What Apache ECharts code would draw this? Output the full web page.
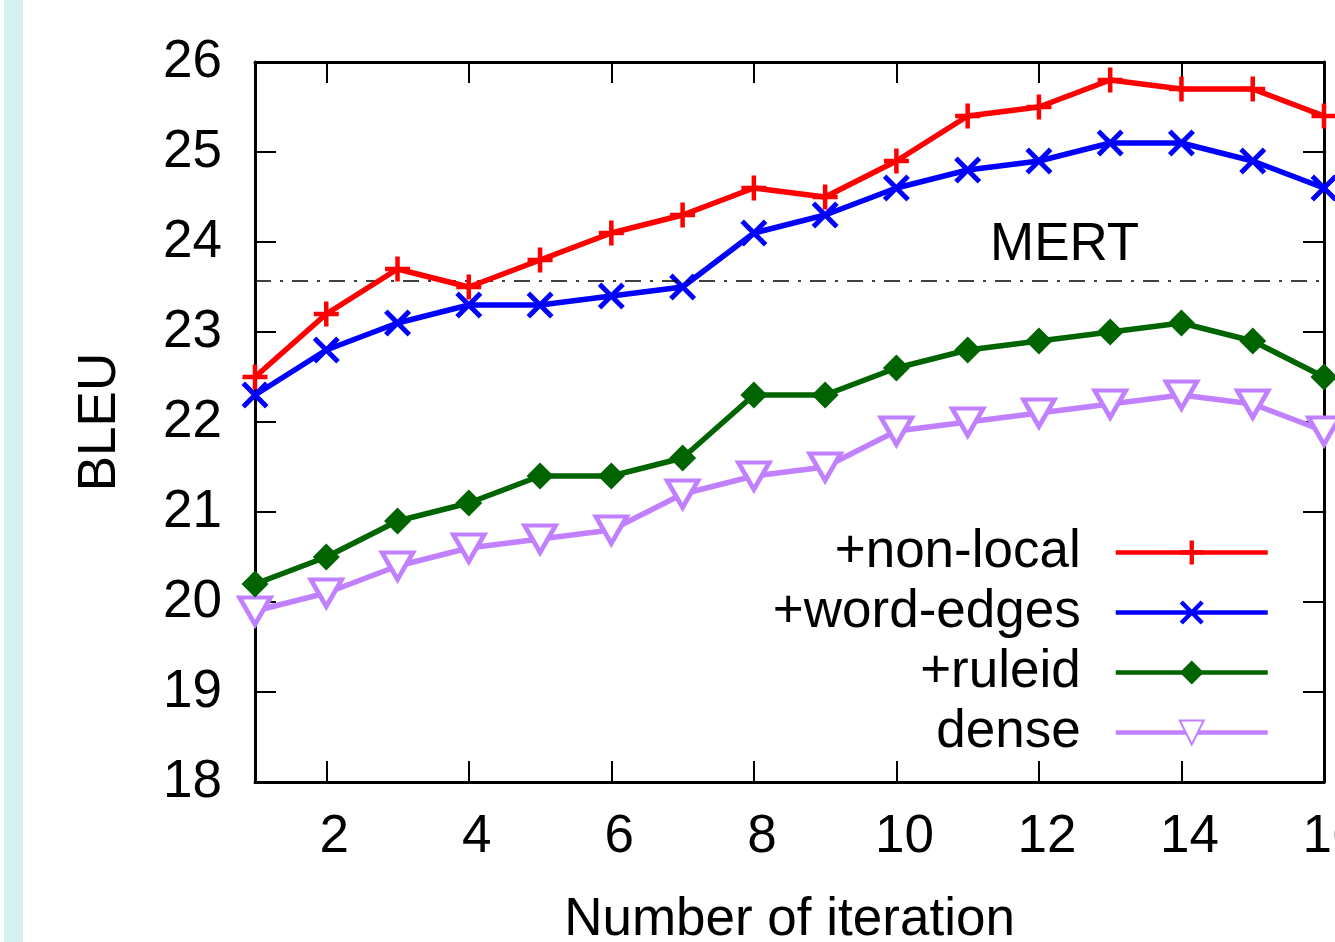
<!DOCTYPE html>
<html>
<head>
<meta charset="utf-8">
<script src="https://cdn.jsdelivr.net/npm/echarts@6/dist/echarts.min.js"></script>
<style>
html,body{margin:0;padding:0;background:#fff;}
#chart{width:1335px;height:942px;}
</style>
</head>
<body>
<div id="chart"></div>
<script>
// ---- data ----
const iterations = [1,2,3,4,5,6,7,8,9,10,11,12,13,14,15,16];
const nonLocal  = [22.5,23.2,23.7,23.5,23.8,24.1,24.3,24.6,24.5,24.9,25.4,25.5,25.8,25.7,25.7,25.4];
const wordEdges = [22.3,22.8,23.1,23.3,23.3,23.4,23.5,24.1,24.3,24.6,24.8,24.9,25.1,25.1,24.9,24.6];
const ruleid    = [20.2,20.5,20.9,21.1,21.4,21.4,21.6,22.3,22.3,22.6,22.8,22.9,23.0,23.1,22.9,22.5];
const dense     = [19.9,20.1,20.4,20.6,20.7,20.8,21.2,21.4,21.5,21.9,22.0,22.1,22.2,22.3,22.2,21.9];
const seriesNames = ['+non-local','+word-edges','+ruleid','dense'];
const mertValue = 23.57;
const mertLabel = 'MERT';
const xTicks = [2,4,6,8,10,12,14,16];
const yTicks = [18,19,20,21,22,23,24,25,26];

const FONT = 'Liberation Sans';
const FS = 53;
const chart = echarts.init(document.getElementById('chart'), null, {renderer:'canvas'});

const pair = arr => iterations.map((x,i)=>[x,arr[i]]);
const plusPath = 'path://M41,0H59V41H100V59H59V100H41V59H0V41H41Z';
const xPath = 'path://M0,13L13,0L50,37L87,0L100,13L63,50L100,87L87,100L50,63L13,100L0,87L37,50Z';
const diamondPath = 'path://M50,0L100,50L50,100L0,50Z';
const triPath = 'path://M0,0L100,0L50,87Z';

const axisCommon = {
  axisLine:{show:true, lineStyle:{color:'#000', width:3}},
  axisTick:{show:true, inside:true, length:21, lineStyle:{color:'#000', width:2}},
  splitLine:{show:false}
};

const option = {
  animation:false,
  backgroundColor:'#fff',
  graphic:[{type:'rect', left:4, top:0, shape:{width:19, height:942}, style:{fill:'#d3f1f1'}, silent:true}],
  grid:{left:255, top:62, right:11, bottom:160, containLabel:false, outerBoundsMode:'none'},
  xAxis:[
    Object.assign({}, axisCommon, {
      type:'value', min:1, max:16, position:'bottom',
      name:'Number of iteration', nameLocation:'middle', nameGap:112,
      nameTextStyle:{fontFamily:FONT, fontSize:FS, color:'#000'},
      axisTick:{show:true, inside:true, length:21, customValues:xTicks, lineStyle:{color:'#000', width:2}},
      axisLabel:{show:true, customValues:xTicks, fontFamily:FONT, fontSize:FS, color:'#000', margin:29, padding:[0,0,0,16]}
    }),
    Object.assign({}, axisCommon, {
      type:'value', min:1, max:16, position:'top',
      axisTick:{show:true, inside:true, length:21, customValues:xTicks, lineStyle:{color:'#000', width:2}},
      axisLabel:{show:false}
    })
  ],
  yAxis:[
    Object.assign({}, axisCommon, {
      type:'value', min:18, max:26, interval:1, position:'left',
      name:'BLEU', nameLocation:'middle', nameGap:128,
      nameTextStyle:{fontFamily:FONT, fontSize:FS, color:'#000'},
      axisLabel:{show:true, fontFamily:FONT, fontSize:FS, color:'#000', margin:33}
    }),
    Object.assign({}, axisCommon, {
      type:'value', min:18, max:26, interval:1, position:'right',
      axisLabel:{show:false}
    })
  ],
  legend:{
    orient:'vertical', right:60, top:521, align:'right',
    itemWidth:152, itemHeight:30, itemGap:7,
    selectedMode:false,
    lineStyle:{width:4.5},
    textStyle:{fontFamily:FONT, fontSize:FS, color:'#000', lineHeight:50, padding:[0,30,0,0]},
    data:seriesNames
  },
  series:[
    {
      name:seriesNames[0], type:'line', data:pair(nonLocal), clip:false,
      symbol:plusPath, symbolSize:25,
      lineStyle:{color:'#ff0000', width:5.5}, itemStyle:{color:'#ff0000'},
      markLine:{
        silent:true, symbol:'none',
        lineStyle:{color:'#000', width:1.6, type:[16,9,3,9]},
        label:{show:false},
        data:[{yAxis:mertValue}]
      },
      markPoint:{
        silent:true, symbol:'circle', symbolSize:0,
        label:{show:true, position:'inside', formatter:mertLabel, fontFamily:FONT, fontSize:FS, color:'#000'},
        data:[{coord:[12.36, 23.96]}]
      },
      z:5
    },
    {
      name:seriesNames[1], type:'line', data:pair(wordEdges), clip:false,
      symbol:xPath, symbolSize:27,
      lineStyle:{color:'#0000ff', width:5.5}, itemStyle:{color:'#0000ff'},
      z:4
    },
    {
      name:seriesNames[2], type:'line', data:pair(ruleid), clip:false,
      symbol:diamondPath, symbolSize:27,
      lineStyle:{color:'#006400', width:5.5}, itemStyle:{color:'#006400'},
      z:3
    },
    {
      name:seriesNames[3], type:'line', data:pair(dense), clip:false,
      symbol:triPath, symbolSize:[31,27],
      lineStyle:{color:'#c080ff', width:5.5},
      itemStyle:{color:'#ffffff', borderColor:'#c080ff', borderWidth:4.5},
      z:2
    }
  ]
};
chart.setOption(option);
</script>
</body>
</html>
